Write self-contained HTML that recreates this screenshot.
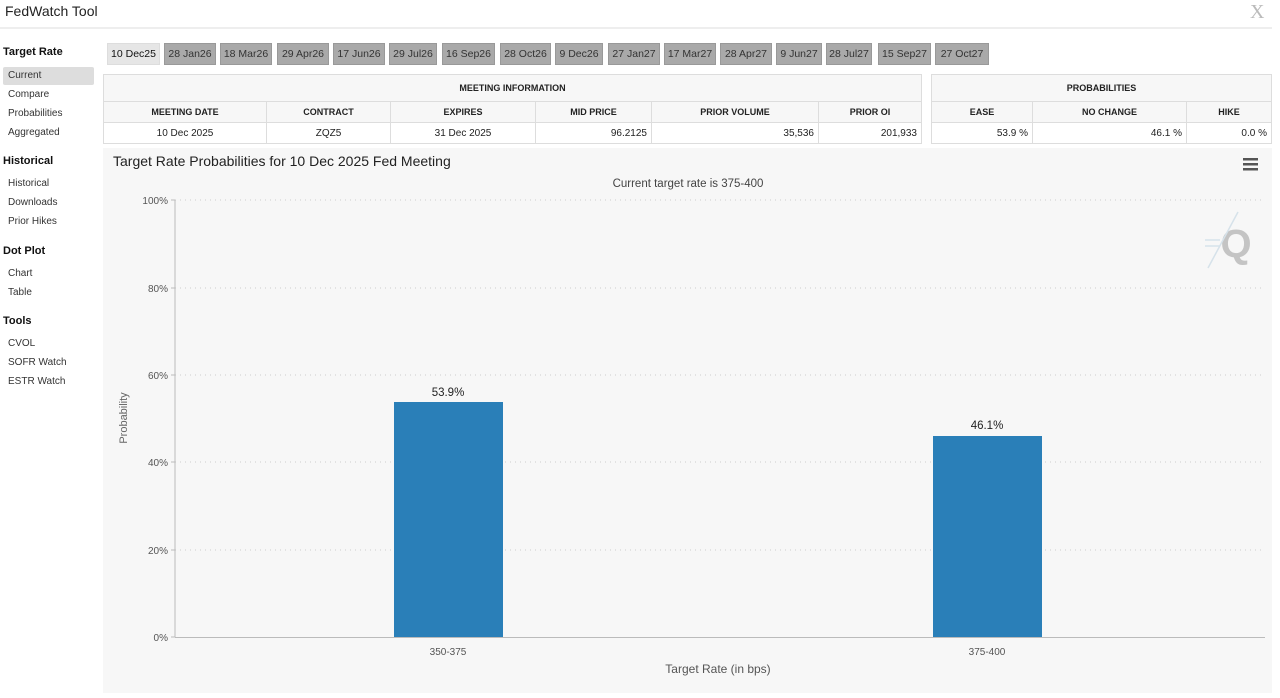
<!DOCTYPE html>
<html><head><meta charset="utf-8"><style>
*{margin:0;padding:0;box-sizing:border-box}
body{width:1280px;height:698px;background:#fff;font-family:"Liberation Sans",Arial,sans-serif;position:relative;overflow:hidden;color:#222}
.a{position:absolute;white-space:nowrap}
.tab{position:absolute;top:43px;height:22px;background:#a9a9a9;border:1px solid #999;font-size:10.5px;line-height:20px;text-align:center;color:#333}
.side{position:absolute;left:8px;font-size:10px;color:#333}
.sh{position:absolute;left:3px;font-size:11px;font-weight:bold;color:#111}
table{position:absolute;border-collapse:collapse;font-size:10px}
td{border:1px solid #ddd;height:21px;padding:0 4px}
.h td{font-weight:bold;text-align:center;background:#f7f7f7;font-size:9px}
</style></head><body>
<div class="a" style="left:5px;top:3px;font-size:14px;color:#222">FedWatch Tool</div>
<div class="a" style="left:1250px;top:1px;font-size:20px;color:#bbb;font-family:'Liberation Serif',serif">X</div>
<div class="a" style="left:0;top:27px;width:1272px;height:2px;background:#eee"></div>
<div class="sh" style="top:46px">Target Rate</div>
<div class="a" style="left:3px;top:67px;width:91px;height:18px;background:#ddd;border-radius:2px"></div>
<div class="side" style="top:70px">Current</div>
<div class="side" style="top:89px">Compare</div>
<div class="side" style="top:108px">Probabilities</div>
<div class="side" style="top:127px">Aggregated</div>
<div class="sh" style="top:155px">Historical</div>
<div class="side" style="top:178px">Historical</div>
<div class="side" style="top:197px">Downloads</div>
<div class="side" style="top:216px">Prior Hikes</div>
<div class="sh" style="top:245px">Dot Plot</div>
<div class="side" style="top:268px">Chart</div>
<div class="side" style="top:287px">Table</div>
<div class="sh" style="top:315px">Tools</div>
<div class="side" style="top:338px">CVOL</div>
<div class="side" style="top:357px">SOFR Watch</div>
<div class="side" style="top:376px">ESTR Watch</div>

<div class="tab" style="left:107px;width:53px;background:#e6e6e6;border-color:#ddd;color:#111">10 Dec25</div>
<div class="tab" style="left:164px;width:52px">28 Jan26</div>
<div class="tab" style="left:220px;width:52px">18 Mar26</div>
<div class="tab" style="left:277px;width:52px">29 Apr26</div>
<div class="tab" style="left:333px;width:52px">17 Jun26</div>
<div class="tab" style="left:389px;width:48px">29 Jul26</div>
<div class="tab" style="left:442px;width:53px">16 Sep26</div>
<div class="tab" style="left:500px;width:51px">28 Oct26</div>
<div class="tab" style="left:555px;width:48px">9 Dec26</div>
<div class="tab" style="left:608px;width:52px">27 Jan27</div>
<div class="tab" style="left:664px;width:52px">17 Mar27</div>
<div class="tab" style="left:720px;width:52px">28 Apr27</div>
<div class="tab" style="left:776px;width:46px">9 Jun27</div>
<div class="tab" style="left:826px;width:46px">28 Jul27</div>
<div class="tab" style="left:878px;width:53px">15 Sep27</div>
<div class="tab" style="left:935px;width:54px">27 Oct27</div>

<table style="left:103px;top:74px;width:819px">
<tr class="h"><td colspan="6" style="height:27px">MEETING INFORMATION</td></tr>
<tr class="h"><td style="width:163px">MEETING DATE</td><td style="width:124px">CONTRACT</td><td style="width:145px">EXPIRES</td><td style="width:116px">MID PRICE</td><td style="width:167px">PRIOR VOLUME</td><td>PRIOR OI</td></tr>
<tr><td style="text-align:center">10 Dec 2025</td><td style="text-align:center">ZQZ5</td><td style="text-align:center">31 Dec 2025</td><td style="text-align:right">96.2125</td><td style="text-align:right">35,536</td><td style="text-align:right">201,933</td></tr>
</table>
<table style="left:931px;top:74px;width:341px">
<tr class="h"><td colspan="3" style="height:27px">PROBABILITIES</td></tr>
<tr class="h"><td style="width:101px">EASE</td><td style="width:154px">NO CHANGE</td><td>HIKE</td></tr>
<tr><td style="text-align:right">53.9 %</td><td style="text-align:right">46.1 %</td><td style="text-align:right">0.0 %</td></tr>
</table>

<div class="a" style="left:103px;top:148px;width:1169px;height:545px;background:#f7f7f7"></div>
<svg class="a" style="left:0;top:0" width="1280" height="698" font-family="Liberation Sans, Arial, sans-serif">
<text x="113" y="166" font-size="14" fill="#222">Target Rate Probabilities for 10 Dec 2025 Fed Meeting</text>
<text x="688" y="187" font-size="11.5" fill="#444" text-anchor="middle">Current target rate is 375-400</text>
<g fill="#555"><rect x="1243" y="158" width="15" height="2.5"/><rect x="1243" y="163" width="15" height="2.5"/><rect x="1243" y="168" width="15" height="2.5"/></g>
<text x="1236" y="257" font-size="40" font-weight="bold" fill="#c4c4c4" text-anchor="middle">Q</text>
<g stroke="#d6e2ea" stroke-width="1.5"><line x1="1208" y1="268" x2="1238" y2="212"/><line x1="1205" y1="240" x2="1220" y2="240"/><line x1="1205" y1="246" x2="1220" y2="246"/></g>
<g stroke="#ccc" stroke-dasharray="1,4">
<line x1="175" y1="200" x2="1265" y2="200"/><line x1="175" y1="288" x2="1265" y2="288"/>
<line x1="175" y1="375" x2="1265" y2="375"/><line x1="175" y1="462" x2="1265" y2="462"/>
<line x1="175" y1="550" x2="1265" y2="550"/></g>
<line x1="175" y1="200" x2="175" y2="637" stroke="#bbb"/>
<line x1="175" y1="637.5" x2="1265" y2="637.5" stroke="#bbb"/>
<g stroke="#bbb"><line x1="171" y1="200" x2="175" y2="200"/><line x1="171" y1="288" x2="175" y2="288"/><line x1="171" y1="375" x2="175" y2="375"/><line x1="171" y1="462" x2="175" y2="462"/><line x1="171" y1="550" x2="175" y2="550"/><line x1="171" y1="637" x2="175" y2="637"/></g>
<g font-size="10" fill="#555" text-anchor="end">
<text x="168" y="204">100%</text><text x="168" y="292">80%</text><text x="168" y="379">60%</text>
<text x="168" y="466">40%</text><text x="168" y="554">20%</text><text x="168" y="641">0%</text></g>
<text transform="translate(127,418) rotate(-90)" font-size="11" fill="#666" text-anchor="middle">Probability</text>
<rect x="394" y="402" width="109" height="235" fill="#2a7fb8"/>
<rect x="933" y="436" width="109" height="201" fill="#2a7fb8"/>
<text x="448" y="396" font-size="11.5" fill="#222" text-anchor="middle">53.9%</text>
<text x="987" y="429" font-size="11.5" fill="#222" text-anchor="middle">46.1%</text>
<text x="448" y="655" font-size="10" fill="#555" text-anchor="middle">350-375</text>
<text x="987" y="655" font-size="10" fill="#555" text-anchor="middle">375-400</text>
<text x="718" y="673" font-size="12" fill="#555" text-anchor="middle">Target Rate (in bps)</text>
</svg>
</body></html>
